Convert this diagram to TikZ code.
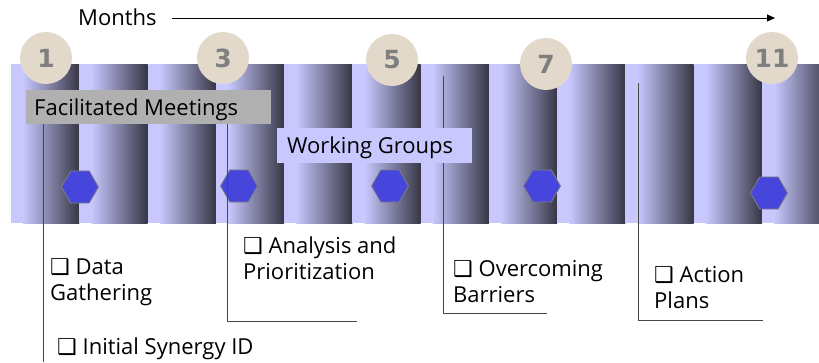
\documentclass[tikz,border=0pt]{standalone}
\usepackage{fontspec}
\setmainfont{Open Sans}
\newfontfamily\symfont{DejaVu Sans}
\newfontfamily\numfont{DejaVu Sans Bold}
\usetikzlibrary{shapes.geometric,arrows.meta}
\definecolor{lav}{HTML}{C8C8FF}
\definecolor{darkcol}{HTML}{363645}
\definecolor{hexblue}{HTML}{4646DC}
\definecolor{circbeige}{HTML}{E2D9CA}
\definecolor{numgrey}{HTML}{7F7F7F}
\definecolor{boxgrey}{HTML}{B0B0B0}
\definecolor{linegrey}{HTML}{474747}
\newcommand{\bx}{{\symfont\fontsize{22}{26}\selectfont ❑}}
\tikzset{
  lbl/.style={font=\fontsize{22}{26}\selectfont, inner sep=0pt, anchor=base west},
  numcircle/.style={circle, fill=circbeige, minimum size=52pt, inner sep=0pt,
     text=numgrey, font=\numfont\fontsize{25}{25}\selectfont},
  hexnode/.style={regular polygon, regular polygon sides=6, minimum size=37pt,
     inner sep=0pt, fill=hexblue, draw=numgrey, line width=0.8pt},
  conn/.style={draw=linegrey, line width=1pt}
}
\begin{document}
\begin{tikzpicture}[x=1pt,y=-1pt]
\useasboundingbox (0,0) rectangle (819,362);
% band of columns
\begin{scope}
\clip (0,0) rectangle (819,362);
\foreach \i in {0,...,11}{
  \pgfmathsetmacro{\xa}{11+\i*68.27}
  \pgfmathsetmacro{\xb}{\xa+12}
  \pgfmathsetmacro{\xc}{\xa+68.27}
  \fill[lav] (\xa,64) rectangle (\xc,223);
  \shade[left color=lav, right color=darkcol] (\xb,64) rectangle (\xc,223);
}
\end{scope}
% month circles
\node[numcircle] (m1) at (46,58) {1};
\node[numcircle] (m3) at (223,58) {3};
\node[numcircle] (m5) at (392,60) {5};
\node[numcircle] (m7) at (546,64) {7};
\node[numcircle] (m11) at (772,58) {11};
% months arrow
\node[lbl] (months) at (78,25) {Months};
\coordinate (mend) at (775,18);
\draw[line width=1pt, -{Triangle[length=8pt,width=7pt]}] (172,18) -- (mend);
% hexagons
\node[hexnode] (h1) at (80,187) {};
\node[hexnode] (h2) at (239,186) {};
\node[hexnode] (h3) at (390,186) {};
\node[hexnode] (h4) at (542,186) {};
\node[hexnode] (h5) at (769,193) {};
% facilitated meetings box
\fill[boxgrey] (26,90) rectangle (271,124);
\node[lbl] (fm) at (34,115) {Facilitated Meetings};
\coordinate (fmb) at (0,124);
% line 3 behind working groups box
\coordinate (c3t) at (443,76);
\coordinate (c3) at (443,313);
\coordinate (c3e) at (547,313);
\draw[conn] (c3t) -- (c3) -- (c3e);
% working groups box
\fill[lav] (277,128) rectangle (472,163);
\node[lbl] (wg) at (287,153) {Working Groups};
% other connectors
\coordinate (c1) at (43,362);
\draw[conn] (c1 |- fmb) -- (c1);
\coordinate (c2) at (227,321);
\coordinate (c2e) at (357,321);
\draw[conn] (c2 |- fmb) -- (c2) -- (c2e);
\coordinate (c4t) at (638,83);
\coordinate (c4) at (638,320);
\coordinate (c4e) at (763,320);
\draw[conn] (c4t) -- (c4) -- (c4e);
% activity labels
\node[lbl] (data) at (50,274) {\begin{tabular}[t]{@{}l@{}}\bx\ Data\\Gathering\end{tabular}};
\node[lbl] (anal) at (243,253) {\begin{tabular}[t]{@{}l@{}}\bx\ Analysis and\\Prioritization\end{tabular}};
\node[lbl] (over) at (453,276) {\begin{tabular}[t]{@{}l@{}}\bx\ Overcoming\\Barriers\end{tabular}};
\node[lbl] (act) at (654,282) {\begin{tabular}[t]{@{}l@{}}\bx\ Action\\Plans\end{tabular}};
\node[lbl] (init) at (57,354) {\bx\ Initial Synergy ID};
\end{tikzpicture}
\end{document}
